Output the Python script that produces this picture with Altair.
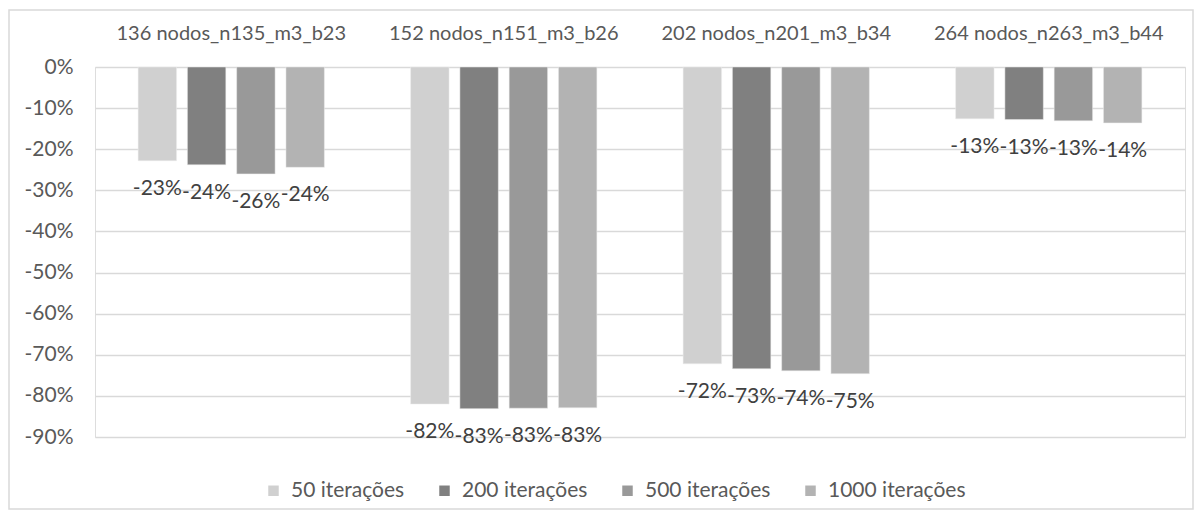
import altair as alt
import pandas as pd

groups = ["136 nodos_n135_m3_b23", "152 nodos_n151_m3_b26",
          "202 nodos_n201_m3_b34", "264 nodos_n263_m3_b44"]
series = ["50 iterações", "200 iterações", "500 iterações", "1000 iterações"]
colors = ["#d0d0d0", "#808080", "#999999", "#b3b3b3"]

# values in percent, per series, in the order of groups
v50 = [-22.8, -82.0, -72.2, -12.6]
v200 = [-23.8, -83.1, -73.4, -12.8]
v500 = [-26.0, -83.0, -73.9, -13.1]
v1000 = [-24.4, -82.9, -74.6, -13.6]

y_ticks = [0, -0.1, -0.2, -0.3, -0.4, -0.5, -0.6, -0.7, -0.8, -0.9]

rows = []
for s, vals in zip(series, [v50, v200, v500, v1000]):
    for g, v in zip(groups, vals):
        rows.append({"grupo": g, "serie": s, "valor": v / 100.0,
                     "rotulo": f"{round(v)}%"})
df = pd.DataFrame(rows)

FONT = "Lato"
GREY = "#595959"
FS = 21

x_enc = alt.X("grupo:N", sort=groups,
              scale=alt.Scale(paddingInner=0, paddingOuter=0),
              axis=alt.Axis(orient="top", title=None, labelAngle=0, domain=False,
                            ticks=False, labelFontSize=20, labelColor=GREY,
                            labelFont=FONT, labelPadding=24, labelLimit=0, grid=False))
xoff = alt.XOffset("serie:N", sort=series,
                   scale=alt.Scale(paddingInner=0.22, paddingOuter=0.875))
y_enc = alt.Y("valor:Q",
              scale=alt.Scale(domain=[-0.9, 0], nice=False, zero=True),
              axis=alt.Axis(title=None, values=y_ticks, domain=False, ticks=False,
                            labelExpr="round(datum.value*100) + '%'",
                            labelFontSize=FS, labelColor=GREY, labelFont=FONT,
                            labelPadding=22, gridColor="#d9d9d9", gridWidth=1.5))

base = alt.Chart(df)

bars = base.mark_bar(stroke="#ececec", strokeWidth=0.5).encode(
    x=x_enc, xOffset=xoff, y=y_enc,
    color=alt.Color("serie:N", sort=series,
                    scale=alt.Scale(domain=series, range=colors),
                    legend=alt.Legend(title=None, orient="none", direction="horizontal",
                                      columns=4, legendX=168, legendY=413,
                                      symbolType="square", symbolSize=110,
                                      symbolStrokeWidth=0, labelFontSize=FS,
                                      labelColor=GREY, labelFont=FONT,
                                      labelOffset=7, columnPadding=29)),
)

labels = base.mark_text(baseline="middle", align="center", dy=28, fontSize=FS,
                        font=FONT, color="#404040").encode(
    x=alt.X("grupo:N", sort=groups), xOffset=alt.XOffset("serie:N", sort=series),
    y=alt.Y("valor:Q"), text="rotulo:N")

frame = alt.Chart(pd.DataFrame({"a": [0]})).mark_rect(
    fillOpacity=0, stroke="#d9d9d9", strokeWidth=1.5).encode(
    x=alt.value(-86), x2=alt.value(1098), y=alt.value(-57), y2=alt.value(442))

chart = alt.layer(frame, bars, labels).properties(
    width=1090, height=370,
    autosize=alt.AutoSizeParams(type="none"),
    padding={"left": 87, "top": 59, "right": 9, "bottom": 73},
).configure_view(stroke=None).configure(background="white")

chart.save("out.html", embed_options={"renderer": "svg", "actions": False})
